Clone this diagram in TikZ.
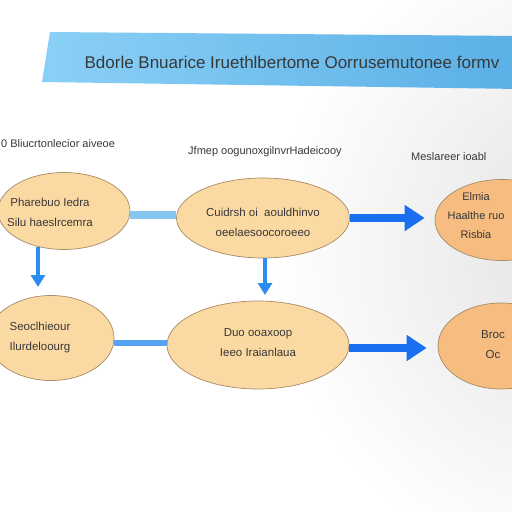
\documentclass[tikz,border=0pt]{standalone}
\usepackage{fontspec}
\setmainfont{Liberation Sans}
\usetikzlibrary{shapes.geometric,arrows.meta,calc}
\definecolor{peach}{HTML}{FBD9A2}
\definecolor{peachdark}{HTML}{F6BC80}
\definecolor{rimc}{HTML}{A88A66}
\definecolor{txt}{HTML}{383838}
\definecolor{lightline}{HTML}{86C6F1}
\definecolor{midblue}{HTML}{2C8CF0}
\definecolor{deepblue}{HTML}{1A6EF0}
\definecolor{bannerl}{HTML}{8AD0F6}
\definecolor{bannerr}{HTML}{5AAFE6}
\begin{document}
\begin{tikzpicture}[x=1pt,y=-1pt,
  oval/.style={ellipse,draw=rimc,line width=0.7pt,fill=peach,inner sep=0pt},
  ovaldark/.style={oval,fill=peachdark},
  intext/.style={align=center,font=\fontsize{11.5}{20}\selectfont,text=txt,inner sep=0pt},
  lbl/.style={font=\fontsize{11}{13}\selectfont,text=txt,inner sep=0pt},
  link/.style={line width=8pt,lightline},
  downarr/.style={line width=4.5pt,midblue,-{Triangle[width=14pt,length=12pt]}},
  rightarr/.style={line width=8pt,deepblue,-{Triangle[width=25pt,length=20pt]}}]
\useasboundingbox (0,0) rectangle (512,512);
\clip (0,0) rectangle (512,512);
\fill[white] (0,0) rectangle (512,512);
\shade[inner color=black!12,outer color=white] (600,250) circle (330);
% banner
\shade[left color=bannerl,right color=bannerr] (50,32) -- (520,36) -- (520,89) -- (42,82) -- cycle;
\node[font=\fontsize{17}{19}\selectfont,text=txt,inner sep=0pt] (title) at (292,62) {Bdorle Bnuarice Iruethlbertome Oorrusemutonee formv};
% labels
\node[lbl,anchor=west] (l1) at (1,144) {0 Bliucrtonlecior aiveoe};
\node[lbl,anchor=west] (l2) at (188,152) {Jfmep oogunoxgilnvrHadeicooy};
\node[lbl,anchor=west] (l3) at (411,157) {Meslareer ioabl};
% ovals
\node[oval,minimum width=132pt,minimum height=77pt] (e1) at (64,211) {};
\node[oval,minimum width=173pt,minimum height=80pt] (e2) at (263,218) {};
\node[ovaldark,minimum width=134pt,minimum height=81pt] (e3) at (502,220) {};
\node[oval,minimum width=126pt,minimum height=85pt] (e4) at (51,338) {};
\node[oval,minimum width=182pt,minimum height=88pt] (e5) at (258,345) {};
\node[ovaldark,minimum width=126pt,minimum height=86pt] (e6) at (501,346) {};
% oval texts
\node[intext] (t1) at (50,212) {Pharebuo Iedra\\Silu haeslrcemra};
\node[intext] (t2) at (263,222) {Cuidrsh oi\ \ aouldhinvo\\oeelaesoocoroeeo};
\node[intext,font=\fontsize{11}{19}\selectfont] (t3) at (476,216) {Elmia\\Haalthe ruo\\Risbia};
\node[intext] (t4) at (40,338) {Seoclhieour\\Ilurdeloourg};
\node[intext] (t5) at (258,343) {Duo ooaxoop\\Ieeo Iraianlaua};
\node[intext] (t6) at (493,345) {Broc\\Oc};
% connectors
\draw[link] (e1.east |- 0,215) -- (e2.west |- 0,215);
\draw[link,line width=6pt,midblue!80] (e4.east |- 0,343) -- (e5.west |- 0,343);
\draw[rightarr] (e2.east |- 0,218) -- ([xshift=-10pt]e3.west |- 0,218);
\draw[rightarr] (e5.east |- 0,348) -- ([xshift=-11pt]e6.west |- 0,348);
\draw[downarr] ([xshift=-26pt]e1.south) ++(0,-3) coordinate (d1) -- (d1 |- 0,287);
\draw[downarr] ([xshift=2pt]e2.south) ++(0,0) coordinate (d2) -- (d2 |- 0,295);
\end{tikzpicture}
\end{document}
